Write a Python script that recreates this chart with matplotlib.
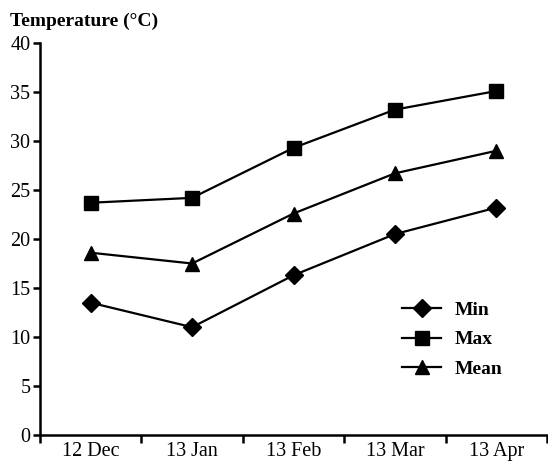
import numpy as np
import matplotlib
matplotlib.use("Agg")
import matplotlib.pyplot as plt

# data
months = ["12 Dec", "13 Jan", "13 Feb", "13 Mar", "13 Apr"]
t_min = [13.5, 11.0, 16.3, 20.5, 23.2]
t_max = [23.7, 24.2, 29.3, 33.2, 35.1]
t_mean = [18.6, 17.5, 22.6, 26.7, 29.0]

plt.rcParams['font.family'] = ['Liberation Serif', 'DejaVu Serif']

fig = plt.figure(figsize=(5.48, 4.65), dpi=100)
ax = fig.add_axes([40 / 548, 1 - 435 / 465, 507 / 548, (435 - 43) / 465])

x = np.arange(len(months)) + 0.5
ax.plot(x, t_min, color='black', lw=1.6, marker='D', ms=9, label='Min')
ax.plot(x, t_max, color='black', lw=1.6, marker='s', ms=9.5, label='Max')
ax.plot(x, t_mean, color='black', lw=1.6, marker='^', ms=9.5, label='Mean')

ax.set_xlim(0, len(months))
ax.set_ylim(0, 40)
ax.set_yticks(np.arange(0, 41, 5))
ax.set_xticks(np.arange(0, len(months) + 1))
ax.set_xticklabels([])
ax.set_xticks(x, minor=True)
ax.set_xticklabels(months, minor=True)
ax.tick_params(axis='x', which='minor', length=0, labelsize=14.5, pad=5)
ax.tick_params(axis='x', which='major', length=6, width=1.8, direction='out')
ax.tick_params(axis='y', length=5, width=1.8, direction='out', labelsize=14.5, pad=2)

for s in ['top', 'right']:
    ax.spines[s].set_visible(False)
for s in ['left', 'bottom']:
    ax.spines[s].set_linewidth(1.8)

fig.text(10 / 548, 1 - 21 / 465, 'Temperature (°C)', fontsize=14,
         fontweight='bold', va='center', ha='left')

ax.legend(loc='upper left', bbox_to_anchor=(0.68, 0.385), frameon=False,
          prop={'weight': 'bold', 'size': 14}, handlelength=2.0,
          labelspacing=0.6, handletextpad=0.7)

fig.savefig('out.png', dpi=100)
